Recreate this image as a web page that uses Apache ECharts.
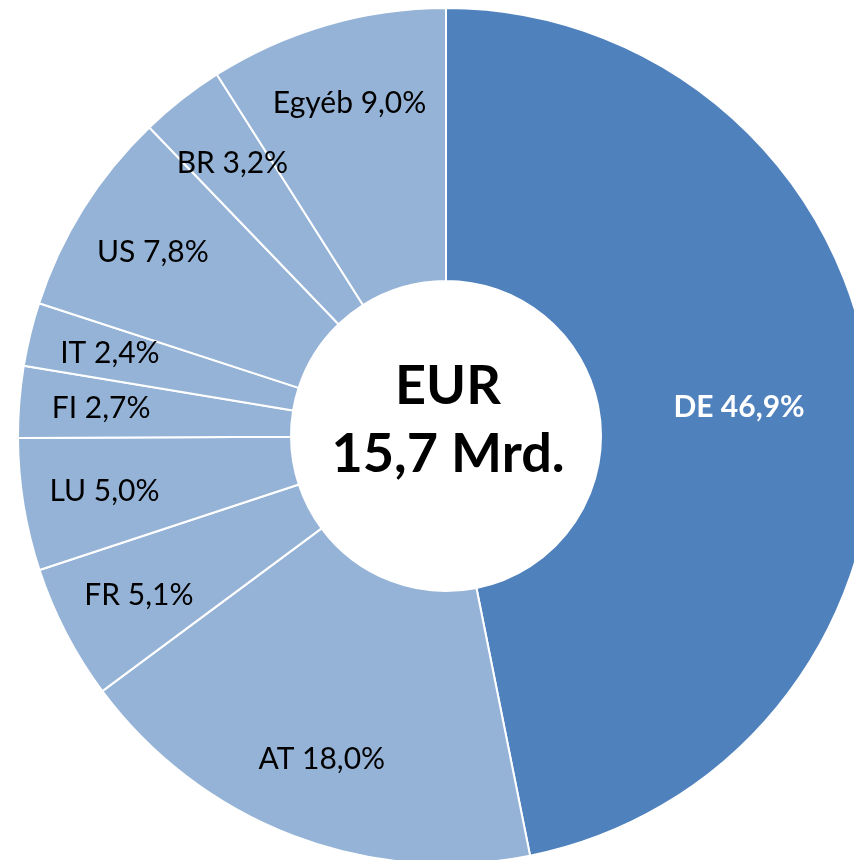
<!DOCTYPE html>
<html>
<head>
<meta charset="utf-8">
<script src="https://cdn.jsdelivr.net/npm/echarts@6/dist/echarts.min.js"></script>
<style>
  html, body { margin: 0; padding: 0; background: #fff; }
  #main { width: 854px; height: 860px; }
</style>
</head>
<body>
<div id="main"></div>
<script>
// országok és részesedés (%)
const countries = ['DE', 'AT', 'FR', 'LU', 'FI', 'IT', 'US', 'BR', 'Egyéb']
const shares = [46.9, 18.0, 5.1, 5.0, 2.7, 2.4, 7.8, 3.2, 9.0]
const centerLines = ['EUR', '15,7 Mrd.']

const dark = '#4f81bd'
const light = '#95b3d7'
const font = 'Lato, "Open Sans", sans-serif'

const fmt = v => v.toFixed(1).replace('.', ',') + '%'

const chart = echarts.init(document.getElementById('main'))

const ringData = countries.map((name, i) => ({
  name,
  value: shares[i],
  itemStyle: { color: i === 0 ? dark : light },
  label: { show: i === 0 }
}))

// átlátszó gyűrű csak a kisebb szeletek feliratainak
const labelData = countries.map((name, i) => ({
  name,
  value: shares[i],
  label: { show: i !== 0 }
}))

chart.setOption({
  backgroundColor: '#ffffff',
  animation: false,
  series: [
    {
      type: 'pie',
      center: [446, 436],
      radius: [155, 428],
      startAngle: 90,
      clockwise: true,
      avoidLabelOverlap: false,
      silent: true,
      itemStyle: { borderColor: '#ffffff', borderWidth: 2 },
      label: {
        position: 'inside',
        formatter: p => p.name + ' ' + fmt(p.value),
        color: '#ffffff',
        fontWeight: 'bold',
        fontFamily: font,
        fontSize: 30
      },
      labelLine: { show: false },
      data: ringData
    },
    {
      type: 'pie',
      center: [446, 436],
      radius: [258, 428],
      startAngle: 90,
      clockwise: true,
      avoidLabelOverlap: false,
      silent: true,
      itemStyle: { color: 'transparent', borderWidth: 0 },
      label: {
        position: 'inside',
        formatter: p => p.name + ' ' + fmt(p.value),
        color: '#000000',
        fontFamily: font,
        fontSize: 30
      },
      labelLine: { show: false },
      data: labelData
    }
  ],
  graphic: [
    {
      type: 'text',
      x: 448,
      y: 421,
      style: {
        text: centerLines.join('\n'),
        align: 'center',
        verticalAlign: 'middle',
        fill: '#000000',
        font: 'bold 54px ' + font,
        lineHeight: 68
      }
    }
  ]
})
</script>
</body>
</html>
